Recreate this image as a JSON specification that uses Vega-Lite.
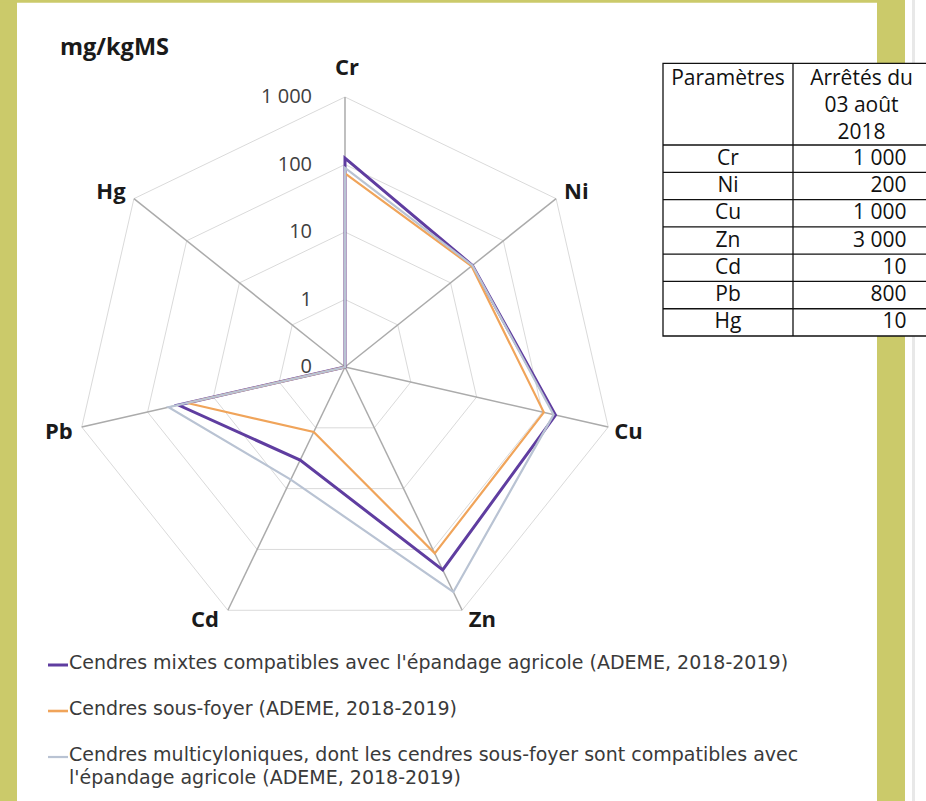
{
  "$schema": "https://vega.github.io/schema/vega-lite/v6.json",
  "width": 926,
  "height": 801,
  "autosize": {"type": "none"},
  "padding": 0,
  "background": "white",
  "config": {"view": {"stroke": null}, "font": "Open Sans"},
  "datasets": {
    "axes": [
      {"el": "Cr", "lv": [1, 10, 100, 1000]},
      {"el": "Ni", "lv": [1, 10, 100, 1000]},
      {"el": "Cu", "lv": [1, 10, 100, 1000]},
      {"el": "Zn", "lv": [1, 10, 100, 1000]},
      {"el": "Cd", "lv": [1, 10, 100, 1000]},
      {"el": "Pb", "lv": [1, 10, 100, 1000]},
      {"el": "Hg", "lv": [1, 10, 100, 1000]}
    ],
    "series": [
      {"s": "mixtes", "el": "Cr", "v": 124},
      {"s": "mixtes", "el": "Ni", "v": 26},
      {"s": "mixtes", "el": "Cu", "v": 158},
      {"s": "mixtes", "el": "Zn", "v": 217},
      {"s": "mixtes", "el": "Cd", "v": 3.4},
      {"s": "mixtes", "el": "Pb", "v": 34},
      {"s": "mixtes", "el": "Hg", "v": 0.1},
      {"s": "sousfoyer", "el": "Cr", "v": 74},
      {"s": "sousfoyer", "el": "Ni", "v": 25},
      {"s": "sousfoyer", "el": "Cu", "v": 105},
      {"s": "sousfoyer", "el": "Zn", "v": 116},
      {"s": "sousfoyer", "el": "Cd", "v": 1.17},
      {"s": "sousfoyer", "el": "Pb", "v": 25},
      {"s": "sousfoyer", "el": "Hg", "v": 0.1},
      {"s": "multi", "el": "Cr", "v": 89},
      {"s": "multi", "el": "Ni", "v": 26},
      {"s": "multi", "el": "Cu", "v": 148},
      {"s": "multi", "el": "Zn", "v": 500},
      {"s": "multi", "el": "Cd", "v": 7.1},
      {"s": "multi", "el": "Pb", "v": 48},
      {"s": "multi", "el": "Hg", "v": 0.1}
    ],
    "ticks": [
      {"t": "1 000", "v": 1000},
      {"t": "100", "v": 100},
      {"t": "10", "v": 10},
      {"t": "1", "v": 1},
      {"t": "0", "v": 0.1}
    ],
    "legend": [
      {"s": "mixtes", "label": "Cendres mixtes compatibles avec l'épandage agricole (ADEME, 2018-2019)"},
      {"s": "sousfoyer", "label": "Cendres sous-foyer (ADEME, 2018-2019)"},
      {"s": "multi", "label": ["Cendres multicyloniques, dont les cendres sous-foyer sont compatibles avec", "l'épandage agricole (ADEME, 2018-2019)"]}
    ],
    "limits": [
      {"p": "Cr", "v": "1 000"},
      {"p": "Ni", "v": "200"},
      {"p": "Cu", "v": "1 000"},
      {"p": "Zn", "v": "3 000"},
      {"p": "Cd", "v": "10"},
      {"p": "Pb", "v": "800"},
      {"p": "Hg", "v": "10"}
    ]
  },
  "encoding": {
    "x": {"field": "X", "type": "quantitative", "scale": {"domain": [-1.2778, 2.1519], "nice": false, "zero": false}, "axis": null},
    "y": {"field": "Y", "type": "quantitative", "scale": {"domain": [-1.6074, 1.3593], "nice": false, "zero": false}, "axis": null}
  },
  "layer": [
    {
      "data": {"values": [{}]},
      "transform": [{"calculate": "-1.3", "as": "X"}, {"calculate": "-1.2148", "as": "X2"}, {"calculate": "1.4", "as": "Y"}, {"calculate": "-1.7", "as": "Y2"}],
      "mark": {"type": "rect", "fill": "#CBCA6A"},
      "encoding": {"x2": {"field": "X2"}, "y2": {"field": "Y2"}}
    },
    {
      "data": {"values": [{}]},
      "transform": [{"calculate": "-1.3", "as": "X"}, {"calculate": "1.9704", "as": "X2"}, {"calculate": "1.4", "as": "Y"}, {"calculate": "1.3491", "as": "Y2"}],
      "mark": {"type": "rect", "fill": "#CBCA6A"},
      "encoding": {"x2": {"field": "X2"}, "y2": {"field": "Y2"}}
    },
    {
      "data": {"values": [{}]},
      "transform": [{"calculate": "1.9704", "as": "X"}, {"calculate": "2.0741", "as": "X2"}, {"calculate": "1.4", "as": "Y"}, {"calculate": "-1.7", "as": "Y2"}],
      "mark": {"type": "rect", "fill": "#CBCA6A"},
      "encoding": {"x2": {"field": "X2"}, "y2": {"field": "Y2"}}
    },
    {
      "data": {"values": [{}]},
      "transform": [{"calculate": "2.1", "as": "X"}, {"calculate": "2.1111", "as": "X2"}, {"calculate": "1.4", "as": "Y"}, {"calculate": "-1.7", "as": "Y2"}],
      "mark": {"type": "rect", "fill": "#E8E8E8"},
      "encoding": {"x2": {"field": "X2"}, "y2": {"field": "Y2"}}
    },
    {
      "data": {"name": "axes"},
      "transform": [
        {"flatten": ["lv"]},
        {"calculate": "indexof(['Cr','Ni','Cu','Zn','Cd','Pb','Hg'], datum.el)", "as": "i"},
        {"calculate": "datum.i * 2 * PI / 7", "as": "th"},
        {"calculate": "(log(datum.lv) / LN10 + 1) / 4", "as": "r"},
        {"calculate": "datum.r * sin(datum.th)", "as": "X"},
        {"calculate": "datum.r * cos(datum.th)", "as": "Y"}
      ],
      "mark": {"type": "line", "interpolate": "linear-closed", "stroke": "#DADADA", "strokeWidth": 1},
      "encoding": {"detail": {"field": "lv", "type": "nominal"}, "order": {"field": "i", "type": "quantitative"}}
    },
    {
      "data": {"name": "axes"},
      "transform": [
        {"calculate": "indexof(['Cr','Ni','Cu','Zn','Cd','Pb','Hg'], datum.el)", "as": "i"},
        {"calculate": "datum.i * 2 * PI / 7", "as": "th"},
        {"calculate": "0", "as": "X"},
        {"calculate": "0", "as": "Y"},
        {"calculate": "sin(datum.th)", "as": "X2"},
        {"calculate": "cos(datum.th)", "as": "Y2"}
      ],
      "mark": {"type": "rule", "stroke": "#ABABAB", "strokeWidth": 1.5},
      "encoding": {"x2": {"field": "X2"}, "y2": {"field": "Y2"}}
    },
    {
      "data": {"name": "series"},
      "transform": [
        {"filter": "datum.s == 'mixtes'"},
        {"calculate": "indexof(['Cr','Ni','Cu','Zn','Cd','Pb','Hg'], datum.el)", "as": "i"},
        {"calculate": "datum.i * 2 * PI / 7", "as": "th"},
        {"calculate": "(log(datum.v) / LN10 + 1) / 4", "as": "r"},
        {"calculate": "datum.r * sin(datum.th)", "as": "X"},
        {"calculate": "datum.r * cos(datum.th)", "as": "Y"}
      ],
      "mark": {"type": "line", "interpolate": "linear-closed", "stroke": "#5F3DA0", "strokeWidth": 3},
      "encoding": {"order": {"field": "i", "type": "quantitative"}}
    },
    {
      "data": {"name": "series"},
      "transform": [
        {"filter": "datum.s == 'sousfoyer'"},
        {"calculate": "indexof(['Cr','Ni','Cu','Zn','Cd','Pb','Hg'], datum.el)", "as": "i"},
        {"calculate": "datum.i * 2 * PI / 7", "as": "th"},
        {"calculate": "(log(datum.v) / LN10 + 1) / 4", "as": "r"},
        {"calculate": "datum.r * sin(datum.th)", "as": "X"},
        {"calculate": "datum.r * cos(datum.th)", "as": "Y"}
      ],
      "mark": {"type": "line", "interpolate": "linear-closed", "stroke": "#F0A45A", "strokeWidth": 2.2},
      "encoding": {"order": {"field": "i", "type": "quantitative"}}
    },
    {
      "data": {"name": "series"},
      "transform": [
        {"filter": "datum.s == 'multi'"},
        {"calculate": "indexof(['Cr','Ni','Cu','Zn','Cd','Pb','Hg'], datum.el)", "as": "i"},
        {"calculate": "datum.i * 2 * PI / 7", "as": "th"},
        {"calculate": "(log(datum.v) / LN10 + 1) / 4", "as": "r"},
        {"calculate": "datum.r * sin(datum.th)", "as": "X"},
        {"calculate": "datum.r * cos(datum.th)", "as": "Y"}
      ],
      "mark": {"type": "line", "interpolate": "linear-closed", "stroke": "#B9C3D3", "strokeWidth": 2.2},
      "encoding": {"order": {"field": "i", "type": "quantitative"}}
    },
    {
      "data": {"name": "ticks"},
      "transform": [
        {"calculate": "-0.1222", "as": "X"},
        {"calculate": "(log(datum.v) / LN10 + 1) / 4", "as": "Y"}
      ],
      "mark": {"type": "text", "align": "right", "baseline": "middle", "fontSize": 20, "color": "#404040"},
      "encoding": {"text": {"field": "t", "type": "nominal"}}
    },
    {
      "data": {"name": "axes"},
      "transform": [
        {"calculate": "indexof(['Cr','Ni','Cu','Zn','Cd','Pb','Hg'], datum.el)", "as": "i"},
        {"calculate": "datum.i * 2 * PI / 7", "as": "th"},
        {"calculate": "sin(datum.th) + (abs(sin(datum.th)) > 0.1 ? (sin(datum.th) > 0 ? 0.075 : -0.085) : 0.007)", "as": "X"},
        {"calculate": "cos(datum.th) + (cos(datum.th) > 0.99 ? 0.107 : cos(datum.th) > 0.5 ? 0.026 : cos(datum.th) > -0.5 ? -0.019 : -0.037)", "as": "Y"}
      ],
      "mark": {"type": "text", "align": "center", "baseline": "middle", "fontSize": 22, "fontWeight": "bold", "color": "#1A1A1A"},
      "encoding": {"text": {"field": "el", "type": "nominal"}}
    },
    {
      "data": {"values": [{"t": "mg/kgMS"}]},
      "transform": [{"calculate": "-1.0556", "as": "X"}, {"calculate": "1.1815", "as": "Y"}],
      "mark": {"type": "text", "align": "left", "baseline": "middle", "fontSize": 23.5, "fontWeight": "bold", "color": "#1A1A1A"},
      "encoding": {"text": {"field": "t", "type": "nominal"}}
    },
    {
      "data": {"name": "legend"},
      "transform": [
        {"window": [{"op": "row_number", "as": "k"}]},
        {"calculate": "-1.1", "as": "X"},
        {"calculate": "-1.0259", "as": "X2"},
        {"calculate": "-1.1037 - (datum.k - 1) * 0.1704", "as": "Y"}
      ],
      "mark": {"type": "rule"},
      "encoding": {
        "x2": {"field": "X2"},
        "color": {"field": "s", "type": "nominal", "scale": {"domain": ["mixtes", "sousfoyer", "multi"], "range": ["#5F3DA0", "#F0A45A", "#B9C3D3"]}, "legend": null},
        "strokeWidth": {"field": "s", "type": "nominal", "scale": {"domain": ["mixtes", "sousfoyer", "multi"], "range": [3, 2.2, 2.2]}, "legend": null}
      }
    },
    {
      "data": {"name": "legend"},
      "transform": [
        {"window": [{"op": "row_number", "as": "k"}]},
        {"calculate": "-1.0222", "as": "X"},
        {"calculate": "-1.1037 - (datum.k - 1) * 0.1704", "as": "Y"}
      ],
      "mark": {"type": "text", "font": "DejaVu Sans", "align": "left", "baseline": "top", "dy": -11, "fontSize": 19, "lineHeight": 23, "color": "#3A3A3A"},
      "encoding": {"text": {"field": "label", "type": "nominal"}}
    },
    {
      "data": {"values": [{}]},
      "transform": [{"calculate": "1.1778", "as": "X"}, {"calculate": "2.2", "as": "X2"}, {"calculate": "1.1244", "as": "Y"}, {"calculate": "0.1148", "as": "Y2"}],
      "mark": {"type": "rect", "fill": "white", "stroke": "#111111", "strokeWidth": 1.3},
      "encoding": {"x2": {"field": "X2"}, "y2": {"field": "Y2"}}
    },
    {
      "data": {"name": "limits"},
      "transform": [
        {"window": [{"op": "row_number", "as": "k"}]},
        {"calculate": "1.1778", "as": "X"},
        {"calculate": "2.2", "as": "X2"},
        {"calculate": "0.8222 - (datum.k - 1) * 0.10106", "as": "Y"}
      ],
      "mark": {"type": "rule", "stroke": "#111111", "strokeWidth": 1.3},
      "encoding": {"x2": {"field": "X2"}}
    },
    {
      "data": {"values": [{}]},
      "transform": [{"calculate": "1.6593", "as": "X"}, {"calculate": "1.1244", "as": "Y"}, {"calculate": "0.1148", "as": "Y2"}],
      "mark": {"type": "rule", "stroke": "#111111", "strokeWidth": 1.3},
      "encoding": {"y2": {"field": "Y2"}}
    },
    {
      "data": {"values": [{"t": "Paramètres"}]},
      "transform": [{"calculate": "1.4185", "as": "X"}, {"calculate": "1.0656", "as": "Y"}],
      "mark": {"type": "text", "align": "center", "baseline": "middle", "fontSize": 21, "color": "#111111"},
      "encoding": {"text": {"field": "t", "type": "nominal"}}
    },
    {
      "data": {"values": [{"t": "Arrêtés du"}, {"t": "03 août"}, {"t": "2018"}]},
      "transform": [
        {"window": [{"op": "row_number", "as": "k"}]},
        {"calculate": "1.913", "as": "X"},
        {"calculate": "1.0656 - (datum.k - 1) * 0.0989", "as": "Y"}
      ],
      "mark": {"type": "text", "align": "center", "baseline": "middle", "fontSize": 21, "color": "#111111"},
      "encoding": {"text": {"field": "t", "type": "nominal"}}
    },
    {
      "data": {"name": "limits"},
      "transform": [
        {"window": [{"op": "row_number", "as": "k"}]},
        {"calculate": "1.4185", "as": "X"},
        {"calculate": "0.8222 - (datum.k - 0.5) * 0.10106", "as": "Y"}
      ],
      "mark": {"type": "text", "align": "center", "baseline": "middle", "fontSize": 21, "color": "#111111"},
      "encoding": {"text": {"field": "p", "type": "nominal"}}
    },
    {
      "data": {"name": "limits"},
      "transform": [
        {"window": [{"op": "row_number", "as": "k"}]},
        {"calculate": "2.0796", "as": "X"},
        {"calculate": "0.8222 - (datum.k - 0.5) * 0.10106", "as": "Y"}
      ],
      "mark": {"type": "text", "align": "right", "baseline": "middle", "fontSize": 21, "color": "#111111"},
      "encoding": {"text": {"field": "v", "type": "nominal"}}
    }
  ]
}
